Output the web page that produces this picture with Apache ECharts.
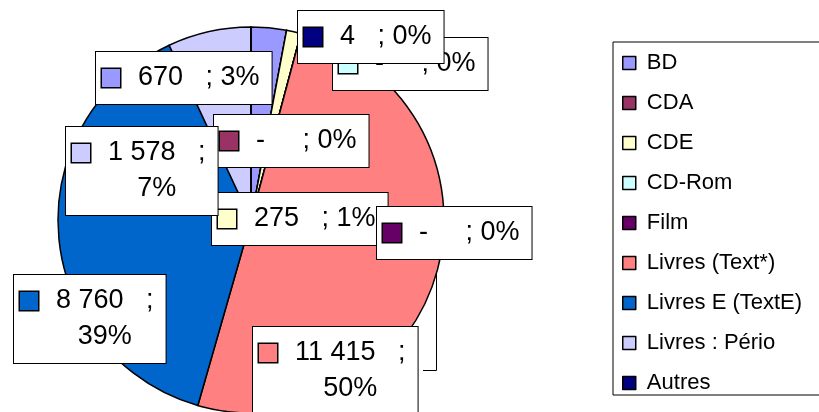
<!DOCTYPE html>
<html>
<head>
<meta charset="utf-8">
<script src="https://cdn.jsdelivr.net/npm/echarts@6/dist/echarts.min.js"></script>
<style>
html, body { margin: 0; padding: 0; background: #fff; }
#chart { width: 819px; height: 412px; }
</style>
</head>
<body>
<div id="chart"></div>
<script>
// categories / values
const categories = ['BD', 'CDA', 'CDE', 'CD-Rom', 'Film', 'Livres (Text*)', 'Livres E (TextE)', 'Livres : Pério', 'Autres'];
const values = [670, 0, 275, 0, 0, 11415, 8760, 1578, 4];
const colors = ['#9999ff', '#993366', '#ffffcc', '#ccffff', '#660066', '#ff8080', '#0066cc', '#ccccff', '#000080'];

// top-left corner of each label box, placed by hand like in the sheet
const labelPos = [[96, 52], [214, 115], [212, 193], [333, 38], [377, 207], [253, 327], [14, 275], [66, 127], [298, 11]];

const FONT = '"Liberation Sans", Arial, sans-serif';

// 11415 -> "11 415"
function fmt(v) {
    return String(v).replace(/\B(?=(\d{3})+(?!\d))/g, ' ');
}

// rich styles: a coloured key square per category
const rich = {
    g: {width: 18, align: 'left'},
    blank: {width: 18, align: 'left'},
    v: {align: 'left'},
    p: {align: 'center'}
};
colors.forEach((c, i) => {
    rich['k' + i] = {width: 18, height: 18, backgroundColor: c, borderColor: '#000', borderWidth: 1.5, align: 'left'};
});

const chart = echarts.init(document.getElementById('chart'));

const option = {
    backgroundColor: '#fff',
    animation: false,
    textStyle: {fontFamily: FONT},
    legend: {
        orient: 'vertical',
        left: 613,
        top: 42,
        padding: [10, 30, 1, 9],
        itemWidth: 13,
        itemHeight: 13,
        itemGap: 18,
        icon: 'rect',
        borderColor: '#000',
        borderWidth: 1,
        backgroundColor: '#fff',
        selectedMode: false,
        itemStyle: {borderColor: '#000', borderWidth: 1.5},
        textStyle: {fontSize: 22, lineHeight: 20, color: '#000', fontFamily: FONT},
        formatter: (name) => ' ' + name,
        data: categories
    },
    series: [{
        type: 'pie',
        center: [251, 220],
        radius: 193,
        startAngle: 90,
        clockwise: true,
        avoidLabelOverlap: false,
        silent: true,
        itemStyle: {borderColor: '#000', borderWidth: 1.5},
        label: {
            show: true,
            position: 'outside',
            align: 'left',
            color: '#000',
            fontFamily: FONT,
            fontSize: 27,
            lineHeight: 36,
            backgroundColor: '#fff',
            borderColor: '#000',
            borderWidth: 1,
            padding: [8, 12, 8, 6],
            rich: rich,
            formatter: function (p) {
                const i = p.dataIndex;
                const pct = Math.round(p.percent) + '%';
                const key = '{k' + i + '|}{g|}';
                if (p.value === 0) return key + '{v|-     ; ' + pct + '}';
                const txt = fmt(p.value);
                if (txt.length > 3) return key + '{v|' + txt + '   ;}\n{blank|}{g|}{p|' + pct + '}';
                return key + '{v|' + txt + '   ; ' + pct + '}';
            }
        },
        labelLine: {show: false},
        labelLayout: function (p) {
            const pos = labelPos[p.dataIndex];
            const out = {x: pos[0], y: pos[1], align: 'left', verticalAlign: 'top'};
            // leader line of the big slice
            if (p.dataIndex === 5) out.labelLinePoints = [[436.5, 262], [436.5, 370.5], [423, 370.5]];
            return out;
        },
        data: categories.map((name, i) => ({
            name: name,
            value: values[i],
            itemStyle: {color: colors[i]},
            labelLine: i === 5 ? {show: true, lineStyle: {color: '#000', width: 1}} : {show: false}
        }))
    }]
};

chart.setOption(option);
</script>
</body>
</html>
